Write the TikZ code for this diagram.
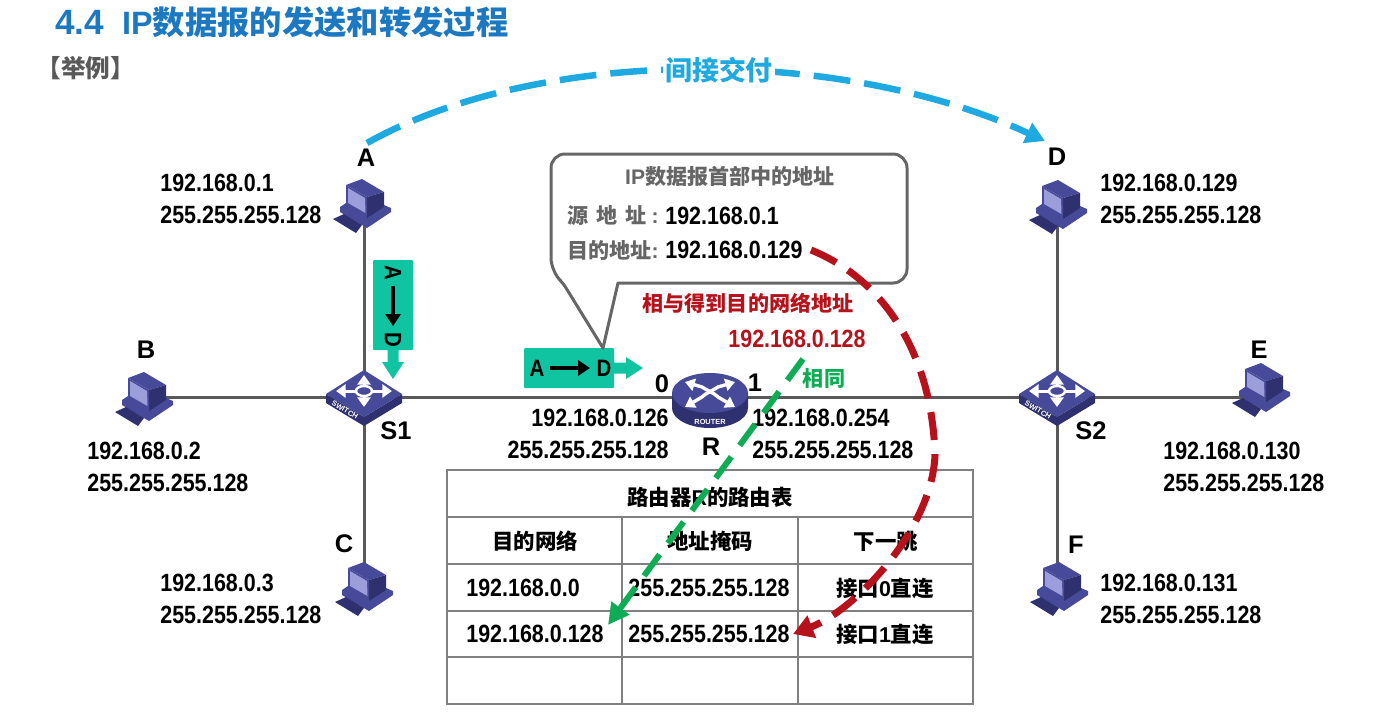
\documentclass[tikz,border=0pt]{standalone}
\usepackage{fontspec}
\setmainfont{Liberation Sans}
\newfontfamily\cjk{Noto Sans CJK SC}
\newfontfamily\numfont[FakeStretch=0.86]{Liberation Sans}
\usetikzlibrary{arrows.meta}

\definecolor{wirec}{HTML}{595959}
\definecolor{titlec}{HTML}{1C78C0}
\definecolor{arcc}{HTML}{1FA9E1}
\definecolor{packetc}{HTML}{10C4A2}
\definecolor{redc}{HTML}{B5121B}
\definecolor{greenc}{HTML}{10AC55}
\definecolor{notec}{HTML}{666666}
\definecolor{gridc}{HTML}{808080}
\definecolor{devdark}{HTML}{2E3070}
\definecolor{devmid}{HTML}{474A98}
\definecolor{devlight}{HTML}{9C9EDC}

\newdimen\pxu \pxu=0.02cm
\newcommand{\zh}[1]{{\cjk\bfseries #1}}
\newcommand{\fsize}[2]{\fontsize{#1}{#2}\selectfont}

\tikzset{
  dev/.style={inner sep=0pt,minimum size=0pt},
  wire/.style={wirec,line width=3\pxu},
  devname/.style={inner sep=0pt,font=\fsize{14.5}{16}\bfseries},
  addrl/.style={inner sep=0pt,align=left,anchor=west,font=\numfont\fsize{14.2}{18.1}\bfseries},
  addrr/.style={inner sep=0pt,align=right,anchor=east,font=\numfont\fsize{14.2}{18.1}\bfseries},
  cell/.style={inner sep=0pt,font=\numfont\fsize{14.2}{15}\bfseries},
  zhcell/.style={inner sep=0pt,font=\fsize{12.2}{15}\bfseries},
  note/.style={inner sep=0pt,anchor=west,font=\fsize{12}{15}\bfseries},
  pcicon/.pic={
    \fill[devmid] (-24,2) -- (-18,-2) -- (20,0) -- (27,3) -- (27,7) -- (3,23) -- (-24,7) -- cycle;
    \fill[devdark] (-31,14) -- (-20,9) -- (-2,20) -- (-8,28) -- cycle;
    \fill[devmid] (-18,-20) -- (-2,-26) -- (20,-13) -- (3,-8) -- cycle;
    \fill[devdark] (3,-8) -- (20,-13) -- (20,2) -- (3,13) -- cycle;
    \fill[devmid] (-18,-20) -- (3,-8) -- (3,13) -- (-18,0) -- cycle;
    \fill[devlight] (-16,-17) -- (1,-7) -- (1.5,8) -- (-16,-2) -- cycle;
  },
  switchicon/.pic={
    \fill[devdark] (-38,-3) -- (0,20) -- (38,-3) -- (38,6) -- (0,29) -- (-38,6) -- cycle;
    \fill[devmid] (0,-27) -- (38,-3) -- (0,20) -- (-38,-3) -- cycle;
    \foreach \tipx/\tipy in {0/-22,0/10,-28/-6,28/-6}
      \draw[white,line width=3\pxu,-{Triangle[length=5.5pt,width=7.5pt]}] (0,-6) -- (\tipx,\tipy);
    \draw[white,fill=devmid,line width=2.4\pxu] (0,-6) ellipse (8 and 5);
    \node[text=white,rotate=-31,inner sep=0pt,font=\fsize{4.2}{5}\bfseries] (-name) at (-19,13) {SWITCH};
  },
  routericon/.pic={
    \fill[devdark] (-38,0) -- (-38,15) arc[start angle=180,end angle=360,x radius=38,y radius=-20] -- (38,0) -- cycle;
    \fill[devmid] (0,0) ellipse (38 and 20);
    \draw[white,line width=3.4\pxu,{Triangle[length=5.5pt,width=7pt]}-{Triangle[length=5.5pt,width=7pt]}]
      (-25,-11) -- (-8,-6) .. controls (0,-1) and (4,0) .. (8,4) -- (25,14);
    \draw[white,line width=3.4\pxu,{Triangle[length=5.5pt,width=7pt]}-{Triangle[length=5.5pt,width=7pt]}]
      (25,-11) -- (8,-6) .. controls (0,-1) and (-4,0) .. (-8,4) -- (-25,14);
    \node[text=white,inner sep=0pt,font=\fsize{4.2}{5}\bfseries] (-name) at (0,29) {ROUTER};
  },
  packet/.pic={
    \fill[packetc,rounded corners=1\pxu] (0,-20) rectangle (90,20);
    \fill[packetc] (89,-5.5) -- (102,-5.5) -- (102,-11) -- (119,0) -- (102,11) -- (102,5.5) -- (89,5.5) -- cycle;
    \node[transform shape,inner sep=0pt,font=\numfont\fsize{13.5}{16}\bfseries] (-src) at (13,0) {A};
    \node[transform shape,inner sep=0pt,font=\numfont\fsize{13.5}{16}\bfseries] (-dst) at (80,0) {D};
    \draw[line width=4.5\pxu,-{Triangle[length=6.8pt,width=8.5pt]}] (26,0) -- (66,0);
  },
}

\begin{document}
\begin{tikzpicture}[x=0.02cm,y=-0.02cm]
  \useasboundingbox (0,0) rectangle (1400,711);

  \node[anchor=west,inner sep=0pt,text=titlec,font=\fsize{18.4}{20}\bfseries] (Title) at (55,22) {{\fsize{20}{20}4.4}\hspace{18\pxu}IP\zh{数据报的发送和转发过程}};
  \node[inner sep=0pt,text=wirec,font=\fsize{14}{15}] (Example) at (86,68) {\zh{【举例】}};

  \node[dev] (PCA) at (364,205) {};
  \node[dev] (PCB) at (146,398) {};
  \node[dev] (PCC) at (366,588) {};
  \node[dev] (PCD) at (1060,206) {};
  \node[dev] (PCE) at (1263,389) {};
  \node[dev] (PCF) at (1061,588) {};
  \node[dev] (SwA) at (364,397) {};
  \node[dev] (SwB) at (1057,397) {};
  \node[dev] (RouterR) at (710,397) {};

  % wires first, icons sit on top
  \path[wire] (SwA |- PCA) edge (SwA)
              (SwA |- PCC) edge (SwA)
              (SwA -| PCB) edge (SwA)
              (SwA) edge (RouterR)
              (RouterR) edge (SwB)
              (SwB) edge (SwB |- PCD)
              (SwB) edge (SwB |- PCF)
              (SwB) edge (SwB -| PCE);

  \foreach \dev in {PCA,PCB,PCC,PCD,PCE,PCF}
    \pic at (\dev) {pcicon};
  \pic (IconS1) at (SwA) {switchicon};
  \pic (IconS2) at (SwB) {switchicon};
  \pic (IconR) at (710,393) {routericon};

  \node[devname] (NameA) at (366,158) {A};
  \node[devname] (NameB) at (146,350) {B};
  \node[devname] (NameC) at (344,544) {C};
  \node[devname] (NameD) at (1057,157) {D};
  \node[devname] (NameE) at (1259,350) {E};
  \node[devname] (NameF) at (1076,545) {F};
  \node[devname] (NameS1) at (396,431) {S1};
  \node[devname] (NameS2) at (1091,431) {S2};
  \node[devname] (NameR) at (711,447) {R};
  \node[devname] (Port0) at (662,384) {0};
  \node[devname] (Port1) at (755,383) {1};

  \node[addrl] (AddrA) at (160,199) {192.168.0.1\\255.255.255.128};
  \node[addrl] (AddrB) at (87,467)  {192.168.0.2\\255.255.255.128};
  \node[addrl] (AddrC) at (160,599) {192.168.0.3\\255.255.255.128};
  \node[addrl] (AddrD) at (1100,199) {192.168.0.129\\255.255.255.128};
  \node[addrl] (AddrE) at (1163,467) {192.168.0.130\\255.255.255.128};
  \node[addrl] (AddrF) at (1100,599) {192.168.0.131\\255.255.255.128};
  \node[addrr] (AddrP0) at (669,434) {192.168.0.126\\255.255.255.128};
  \node[addrl] (AddrP1) at (752,434) {192.168.0.254\\255.255.255.128};

  % packets on the two links
  \pic[rotate=-90] (PktV) at (393,260) {packet};
  \pic (PktH) at (524,368) {packet};

  % address note
  \draw[notec,line width=3\pxu,fill=white,line join=round]
    (603,348) -- (618,283) [rounded corners=14\pxu] -- (907,283) -- (907,154) -- (551,154) -- (551,272)
    [rounded corners=5\pxu] -- (563,283) [sharp corners] -- cycle;
  \node[inner sep=0pt,text=notec,font=\fsize{12}{15}\bfseries] (NoteHead) at (730,176) {IP\zh{数据报首部中的地址}};
  \node[note,text=notec] (SrcKey) at (567,216) {\zh{源\hspace{8\pxu}地\hspace{8\pxu}址}\hspace{5\pxu}:};
  \node[note,text=notec] (DstKey) at (567,250) {\zh{目的地址}:};
  \node[addrl] (SrcVal) at (665,216) {192.168.0.1};
  \node[addrl] (DstVal) at (665,250) {192.168.0.129};

  \node[inner sep=0pt,text=redc,font=\fsize{12}{15}\bfseries] (AndText) at (748,303) {\zh{相与得到目的网络地址}};
  \node[inner sep=0pt,text=redc,font=\numfont\fsize{14.2}{15}\bfseries] (NetAddr) at (797,339) {192.168.0.128};
  \node[inner sep=0pt,text=greenc,font=\fsize{12}{15}\bfseries] (Same) at (824,378) {\zh{相同}};

  % routing table
  \draw[gridc,line width=2\pxu] (447,470) rectangle (973,704);
  \foreach \rowy in {517,564,611,657}
    \draw[gridc,line width=2\pxu] (447,\rowy) -- (973,\rowy);
  \foreach \colx in {622,798}
    \draw[gridc,line width=2\pxu] (\colx,517) -- (\colx,704);
  \node[zhcell] (TabHead) at (710,497) {\zh{路由器}R\zh{的路由表}};
  \node[zhcell] (ColNet)  at (535,541) {\zh{目的网络}};
  \node[zhcell] (ColMask) at (710,541) {\zh{地址掩码}};
  \node[zhcell] (ColHop)  at (886,541) {\zh{下一跳}};
  \node[cell,anchor=west] (NetA) at (466,588) {192.168.0.0};
  \node[cell,anchor=west] (NetB) at (466,634) {192.168.0.128};
  \node[cell] (MaskA) at (709,588) {255.255.255.128};
  \node[cell] (MaskB) at (709,634) {255.255.255.128};
  \node[zhcell] (HopA) at (885,588) {\zh{接口}0\zh{直连}};
  \node[zhcell] (HopB) at (885,634) {\zh{接口}1\zh{直连}};

  % dashed arrows over everything
  \coordinate (ArcFrom) at (367,143);
  \coordinate (ArcTo) at (1045,141);
  \coordinate (RedFrom) at (811,250);
  \coordinate (RedTo) at (793,634);
  \coordinate (GreenFrom) at (803,359);
  \coordinate (GreenTo) at (608,625);
  \draw[arcc,line width=6.5\pxu,dash pattern=on 21pt off 8pt,-{Triangle[length=11pt,width=12pt]}]
    (ArcFrom) .. controls (540,46) and (840,46) .. (ArcTo);
  \node[inner sep=2\pxu,fill=white,text=arcc,font=\fsize{15.3}{18}\bfseries] (ArcText) at (719,70) {\zh{间接交付}};
  \draw[redc,line width=7\pxu,dash pattern=on 16pt off 8pt,-{Triangle[length=11.5pt,width=13pt]}]
    (RedFrom) .. controls (885,280) and (932,355) .. (935,455) .. controls (932,530) and (855,610) .. (RedTo);
  \draw[greenc,line width=6\pxu,dash pattern=on 15pt off 8pt,-{Triangle[length=12pt,width=12pt]}]
    (GreenFrom) -- (GreenTo);
\end{tikzpicture}
\end{document}
